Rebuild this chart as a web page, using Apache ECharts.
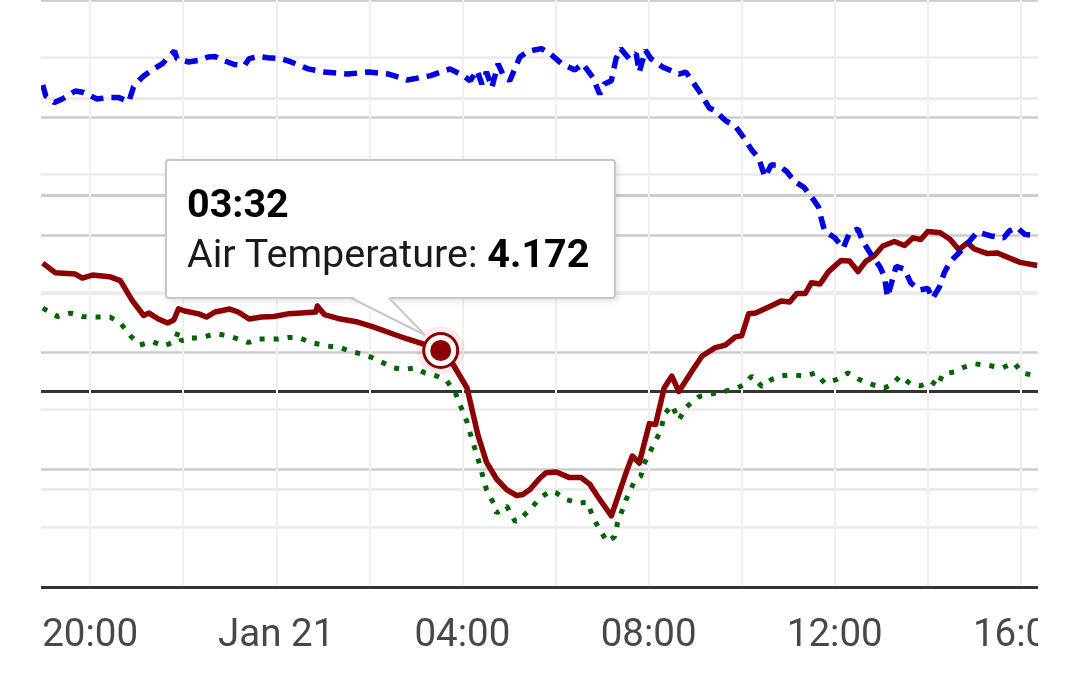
<!DOCTYPE html>
<html>
<head>
<meta charset="utf-8">
<style>
    html, body { margin: 0; padding: 0; background: #fff; }
    #clip { position: absolute; left: 41px; top: 0; width: 997px; height: 686px; overflow: hidden; }
    #main { position: absolute; left: -46.8px; top: 0; width: 1123.2px; height: 686px; }
</style>
<script src="https://cdn.jsdelivr.net/npm/echarts@6.0.0/dist/echarts.min.js"></script>
</head>
<body>
<div id="clip"><div id="main"></div></div>
<script>
    // 气温 (Air Temperature)
    var redTimes = ['18:59','19:15','19:41','19:50','20:03','20:25','20:39','20:54','21:09','21:16',
        '21:28','21:40','21:48','21:54','22:02','22:20','22:30','22:41','23:00','23:11',
        '23:25','23:41','23:57','00:15','00:32','00:51','00:53','01:02','01:23','01:45',
        '02:06','02:27','02:49','03:10','03:32','03:48','04:06','04:12','04:20','04:31',
        '04:44','04:57','05:10','05:18','05:27','05:40','05:48','06:01','06:18','06:33',
        '06:44','06:54','07:12','07:22','07:31','07:39','07:48','08:01','08:09','08:20',
        '08:30','08:39','08:56','09:09','09:26','09:39','09:52','10:00','10:09','10:18',
        '10:35','10:51','11:02','11:11','11:22','11:30','11:41','11:52','12:08','12:19',
        '12:30','12:40','12:51','13:02','13:17','13:30','13:41','13:51','14:00','14:16',
        '14:29','14:40','14:51','15:00','15:17','15:30','15:42','15:59','16:21'];
    var redTemp = [13.11,12.13,11.99,11.58,11.89,11.72,11.31,9.33,7.75,8.00,
        7.39,6.98,7.29,8.44,8.21,7.92,7.59,8.11,8.41,8.11,
        7.39,7.59,7.65,7.92,8.00,8.11,8.72,7.85,7.39,7.08,
        6.57,5.96,5.35,4.83,4.172,2.74,0.34,-1.71,-4.47,-7.23,
        -8.96,-10.04,-10.65,-10.55,-10.04,-8.86,-8.31,-8.25,-8.82,-8.82,
        -9.48,-10.70,-12.73,-10.40,-8.31,-6.61,-7.33,-3.30,-3.40,0.34,
        1.56,-0.02,2.08,3.61,4.47,4.73,5.57,5.68,7.92,8.00,
        8.62,9.23,9.13,10.00,10.00,11.10,10.97,12.24,13.38,13.32,
        12.24,13.28,13.86,14.85,15.31,14.90,15.69,15.52,16.34,16.21,
        15.52,14.48,15.18,14.55,14.08,14.14,13.73,13.18,12.86];

    // 露点 (dotted green)
    var greenTimes = ['18:59','19:18','19:35','19:50','20:09','20:26','20:39','20:52','21:04','21:20',
        '21:35','21:49','21:54','21:58','22:07','22:21','22:32','22:45','22:58','23:11',
        '23:24','23:37','23:49','00:02','00:15','00:28','00:45','01:06','01:23','01:36',
        '01:51','02:04','02:18','02:31','02:44','02:59','03:12','03:27','03:40','03:51',
        '03:57','04:06','04:12','04:19','04:25','04:31','04:40','04:44','04:57','05:08',
        '05:18','05:31','05:40','05:53','06:01','06:14','06:31','06:41','06:48','06:57',
        '07:07','07:16','07:20','07:31','07:42','07:50','07:54','08:05','08:16','08:20',
        '08:30','08:39','08:49','09:05','09:20','09:34','09:52','10:03','10:13','10:26',
        '10:38','10:50','11:04','11:22','11:35','11:47','12:02','12:17','12:32','12:49',
        '13:04','13:15','13:24','13:38','13:51','14:04','14:13','14:19','14:34','14:47',
        '15:01','15:19','15:36','15:51','16:02','16:21'];
    var greenTemp = [8.51,7.65,8.00,7.65,7.59,7.59,6.98,5.68,4.73,5.09,
        4.63,5.09,6.19,5.14,5.45,5.45,5.68,5.86,5.68,5.35,
        4.99,5.35,5.35,5.35,5.51,5.51,4.99,4.63,4.47,4.06,
        3.81,3.43,2.91,2.40,2.23,2.40,1.87,1.56,1.05,-0.17,
        -1.40,-3.14,-4.86,-6.58,-8.31,-10.04,-11.42,-12.44,-11.72,-13.32,
        -12.80,-11.72,-10.91,-10.19,-10.38,-11.07,-11.42,-11.32,-12.80,-14.18,
        -15.38,-14.87,-13.46,-11.07,-9.17,-8.66,-7.43,-5.69,-3.96,-2.41,
        -1.40,-2.93,-1.57,-0.54,-0.28,-0.07,0.26,0.67,1.56,0.50,
        1.19,1.56,1.71,1.56,1.87,0.85,1.19,1.87,1.19,0.67,
        0.34,0.75,1.56,0.75,0.57,1.05,0.50,1.77,1.97,2.48,
        2.81,2.64,2.40,2.91,1.87,1.56];

    // 湿度 (dashed blue)
    var blueTimes = ['18:59','19:03','19:14','19:24','19:41','19:52','20:09','20:22','20:37','20:50',
        '20:56','21:07','21:20','21:33','21:43','21:49','21:52','22:07','22:20','22:32',
        '22:41','22:52','23:06','23:19','23:25','23:37','23:49','00:06','00:19','00:41',
        '01:02','01:32','01:59','02:25','02:49','03:19','03:44','04:01','04:10','04:19',
        '04:25','04:31','04:38','04:46','04:52','05:01','05:14','05:23','05:31','05:42',
        '05:53','06:08','06:25','06:35','06:48','06:57','07:03','07:12','07:18','07:24',
        '07:35','07:44','07:48','07:56','08:03','08:18','08:39','08:48','09:05','09:18',
        '09:26','09:39','09:52','10:03','10:13','10:22','10:30','10:38','10:47','10:58',
        '11:09','11:20','11:32','11:39','11:43','11:47','12:00','12:11','12:19','12:30',
        '12:36','12:47','12:58','13:04','13:08','13:15','13:19','13:30','13:38','13:49',
        '14:00','14:06','14:15','14:21','14:29','14:40','14:51','15:04','15:21','15:38',
        '15:45','15:55','16:05','16:21'];
    var blueHum = [85.52,83.65,82.52,83.13,84.50,84.24,83.13,83.37,83.37,82.69,
        85.21,86.83,88.09,89.13,90.58,91.31,90.00,89.44,89.71,90.29,
        90.39,89.71,89.01,88.84,90.00,90.39,90.17,90.00,89.44,88.26,
        87.73,87.39,87.73,87.39,86.37,87.12,88.26,87.12,86.25,87.99,
        85.69,87.73,85.11,89.13,87.39,86.25,90.29,91.14,91.43,91.72,
        90.87,89.13,88.09,89.13,86.83,83.95,85.69,86.25,90.00,91.72,
        90.00,90.87,87.73,91.43,90.00,88.59,87.39,87.73,84.53,81.65,
        81.09,79.47,78.48,76.49,74.45,73.02,69.85,71.89,71.89,70.78,
        68.99,68.14,66.10,64.74,62.56,60.65,59.49,57.75,60.36,60.99,
        58.94,56.61,54.60,52.88,49.40,52.64,54.60,54.17,51.79,50.60,
        50.87,49.13,51.14,53.49,55.47,56.90,58.52,60.48,59.80,59.49,
        60.65,61.23,60.07,59.80];

    var tipTime = '03:32';

    // "HH:MM" -> 相对 Jan 21 00:00 的小时数
    function toHour(t) {
        var p = t.split(':');
        var h = +p[0] + p[1] / 60;
        return h >= 18 ? h - 24 : h;
    }
    function pairs(times, vals) {
        var out = [];
        for (var i = 0; i < times.length; i++) {
            out.push([toHour(times[i]), vals[i]]);
        }
        return out;
    }
    function hourLabel(h) {
        if (h % 4 !== 0) return '';
        if (h === 0) return 'Jan 21';
        var hh = (h + 24) % 24;
        return (hh < 10 ? '0' : '') + hh + ':00';
    }

    var tipIndex = redTimes.indexOf(tipTime);
    var tipCoord = [toHour(redTimes[tipIndex]), redTemp[tipIndex]];

    var chart = echarts.init(document.getElementById('main'));
    var option = {
        animation: false,
        grid: [
            { left: 0, right: 0, top: 0, bottom: 99 },
            { left: 0, right: 0, top: 57, bottom: 159 }
        ],
        xAxis: [{
            type: 'value',
            gridIndex: 0,
            min: -6,
            max: 18,
            interval: 2,
            axisLine: { onZero: false, lineStyle: { color: '#333', width: 3 } },
            axisTick: { show: false },
            splitLine: { show: true, lineStyle: { color: '#f0f0f0', width: 2 } },
            axisLabel: {
                interval: 0,
                margin: 30,
                color: '#484848',
                fontSize: 38.5,
                fontFamily: 'Roboto',
                formatter: hourLabel
            }
        }, {
            type: 'value',
            gridIndex: 1,
            min: 0,
            max: 1,
            show: false
        }],
        yAxis: [{
            type: 'value',
            gridIndex: 0,
            min: -20,
            max: 40,
            interval: 10,
            axisLine: { show: false },
            axisTick: { show: false },
            axisLabel: { show: false },
            splitLine: {
                lineStyle: {
                    color: ['rgba(0,0,0,0)', '#ebebeb', '#333333', '#ebebeb', '#cccccc', '#ebebeb', '#ebebeb'],
                    width: 3
                }
            }
        }, {
            type: 'value',
            gridIndex: 0,
            position: 'right',
            min: 0,
            max: 100,
            interval: 20,
            axisLine: { show: false },
            axisTick: { show: false },
            axisLabel: { show: false },
            splitLine: { lineStyle: { color: '#cccccc', width: 2.5 } }
        }, {
            type: 'value',
            gridIndex: 1,
            min: 0,
            max: 4,
            interval: 1,
            axisLine: { show: false },
            axisTick: { show: false },
            axisLabel: { show: false },
            splitLine: { lineStyle: { color: '#ebebeb', width: 2.5 } }
        }],
        tooltip: {
            trigger: 'item',
            triggerOn: 'none',
            alwaysShowContent: true,
            transitionDuration: 0,
            position: [170.8, 159],
            padding: 0,
            borderWidth: 2,
            borderColor: '#c8c8c8',
            borderRadius: 4,
            backgroundColor: 'rgba(255,255,255,0.97)',
            extraCssText: 'box-shadow:2px 2px 6px rgba(0,0,0,0.12);width:451px;height:140px;box-sizing:border-box;',
            formatter: function (p) {
                return '<div style="position:relative;height:118px;padding:18px 0 0 20px;' +
                    'font-family:Roboto;font-size:39.5px;line-height:50px;color:#1a1a1a;">' +
                    '<b style="color:#000">' + redTimes[p.dataIndex] + '</b><br>' +
                    p.seriesName + ': <b style="color:#000">' + p.value[1] + '</b>' +
                    '<svg width="1" height="1" style="position:absolute;left:0;top:0;overflow:visible">' +
                    '<path d="M184 135 L258 174 L222 135 Z" fill="#fff"/>' +
                    '<path d="M184 137 L258 174 L222 137" fill="none" stroke="#c8c8c8" stroke-width="2"/>' +
                    '</svg></div>';
            }
        },
        series: [{
            name: 'Dew Point',
            type: 'line',
            xAxisIndex: 0,
            yAxisIndex: 0,
            showSymbol: false,
            emphasis: { disabled: true },
            lineStyle: { color: '#006400', width: 5, type: [5, 9], cap: 'butt' },
            itemStyle: { color: '#006400' },
            data: pairs(greenTimes, greenTemp)
        }, {
            name: 'Air Temperature',
            type: 'line',
            xAxisIndex: 0,
            yAxisIndex: 0,
            // 符号透明，只为 tooltip 提供目标
            showSymbol: true,
            symbol: 'circle',
            symbolSize: 2,
            emphasis: { disabled: true },
            lineStyle: { color: '#8b0000', width: 5.5, join: 'round' },
            itemStyle: { color: '#8b0000', opacity: 0 },
            data: pairs(redTimes, redTemp),
            markPoint: {
                symbol: 'circle',
                silent: true,
                label: { show: false },
                data: [
                    { coord: tipCoord, symbolSize: 48, itemStyle: { color: 'rgba(139,0,0,0.07)', opacity: 1 } },
                    { coord: tipCoord, symbolSize: 37, itemStyle: { color: '#8b0000', opacity: 1 } },
                    { coord: tipCoord, symbolSize: 26, itemStyle: { color: '#8b0000', borderColor: '#fff', borderWidth: 5, opacity: 1 } }
                ]
            }
        }, {
            name: 'Relative Humidity',
            type: 'line',
            xAxisIndex: 0,
            yAxisIndex: 1,
            showSymbol: false,
            emphasis: { disabled: true },
            lineStyle: { color: '#0000e0', width: 5.5, type: [13, 8] },
            itemStyle: { color: '#0000e0' },
            data: pairs(blueTimes, blueHum)
        }]
    };
    chart.setOption(option);
    chart.dispatchAction({ type: 'showTip', seriesIndex: 1, dataIndex: tipIndex });
</script>
</body>
</html>
